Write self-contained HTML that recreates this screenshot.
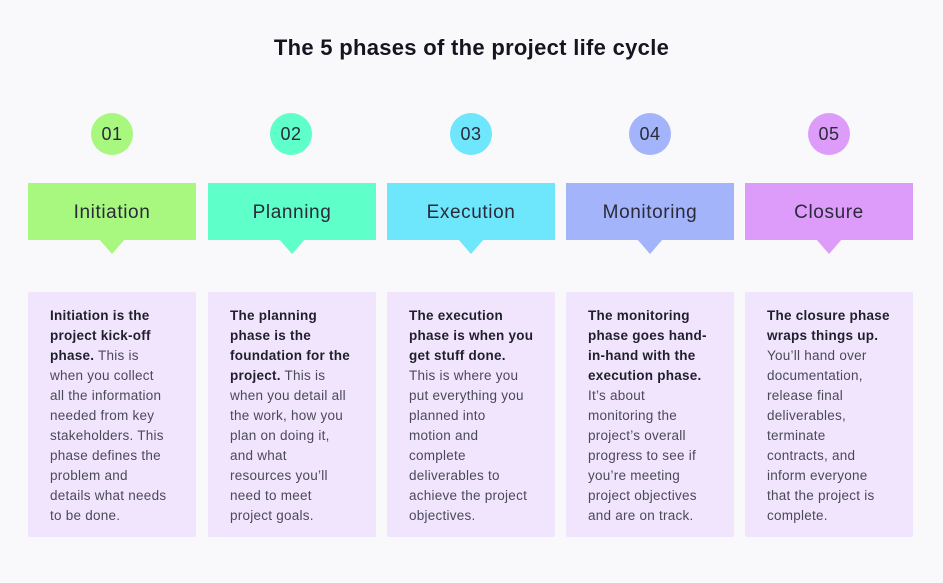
<!DOCTYPE html>
<html><head><meta charset="utf-8"><style>
*{margin:0;padding:0;box-sizing:border-box}
body{width:943px;height:583px;background:#f9f9fb;position:relative;overflow:hidden;font-family:"Liberation Sans",sans-serif;color:#2a2a3a}
.t{position:absolute;left:0;width:943px;top:35px;text-align:center;font-weight:bold;font-size:22px;letter-spacing:0.3px;color:#15151f}
.c{position:absolute;top:113px;width:42px;height:42px;border-radius:50%;text-align:center;line-height:43px;font-size:18px;letter-spacing:0.5px;color:#2a2a3a}
.h{position:absolute;top:183px;width:168px;height:57px;text-align:center;line-height:60px;font-size:19px;letter-spacing:0.6px;color:#2a2a3a}
.a{position:absolute;top:239px;width:0;height:0;border-left:13px solid transparent;border-right:13px solid transparent;border-top:15px solid}
.k{position:absolute;top:292px;width:168px;height:245px;background:#f1e5fd;border-radius:2px;padding:14px 0 0 22px;font-size:13.5px;line-height:20px;letter-spacing:0.25px;color:#4a4a56}
.k b{color:#1f1f2b}
</style></head><body>
<div class="t">The 5 phases of the project life cycle</div>

<div class="c" style="left:91px;background:#a8f77e">01</div>
<div class="c" style="left:270px;background:#5effc8">02</div>
<div class="c" style="left:450px;background:#6ee6fb">03</div>
<div class="c" style="left:629px;background:#a3b4fb">04</div>
<div class="c" style="left:808px;background:#dd9cf9">05</div>

<div class="h" style="left:28px;background:#a8f77e">Initiation</div>
<div class="h" style="left:208px;background:#5effc8">Planning</div>
<div class="h" style="left:387px;background:#6ee6fb">Execution</div>
<div class="h" style="left:566px;background:#a3b4fb">Monitoring</div>
<div class="h" style="left:745px;background:#dd9cf9">Closure</div>

<div class="a" style="left:99px;border-top-color:#a8f77e"></div>
<div class="a" style="left:279px;border-top-color:#5effc8"></div>
<div class="a" style="left:458px;border-top-color:#6ee6fb"></div>
<div class="a" style="left:637px;border-top-color:#a3b4fb"></div>
<div class="a" style="left:816px;border-top-color:#dd9cf9"></div>

<div class="k" style="left:28px"><b>Initiation is the<br>project kick-off<br>phase.</b> This is<br>when you collect<br>all the information<br>needed from key<br>stakeholders. This<br>phase defines the<br>problem and<br>details what needs<br>to be done.</div>
<div class="k" style="left:208px"><b>The planning<br>phase is the<br>foundation for the<br>project.</b> This is<br>when you detail all<br>the work, how you<br>plan on doing it,<br>and what<br>resources you’ll<br>need to meet<br>project goals.</div>
<div class="k" style="left:387px"><b>The execution<br>phase is when you<br>get stuff done.</b><br>This is where you<br>put everything you<br>planned into<br>motion and<br>complete<br>deliverables to<br>achieve the project<br>objectives.</div>
<div class="k" style="left:566px"><b>The monitoring<br>phase goes hand-<br>in-hand with the<br>execution phase.</b><br>It’s about<br>monitoring the<br>project’s overall<br>progress to see if<br>you’re meeting<br>project objectives<br>and are on track.</div>
<div class="k" style="left:745px"><b>The closure phase<br>wraps things up.</b><br>You’ll hand over<br>documentation,<br>release final<br>deliverables,<br>terminate<br>contracts, and<br>inform everyone<br>that the project is<br>complete.</div>
</body></html>
